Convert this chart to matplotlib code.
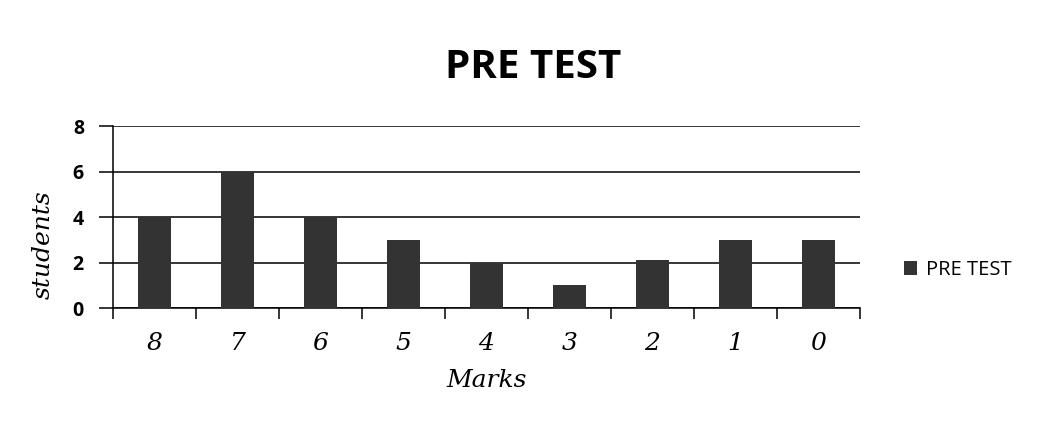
import numpy as np
import matplotlib
matplotlib.use("Agg")
import matplotlib.pyplot as plt

marks = ["8", "7", "6", "5", "4", "3", "2", "1", "0"]
students = [4, 6, 4, 3, 2, 1, 2.1, 3, 3]

fig = plt.figure(figsize=(10.39, 4.32), dpi=100)
ax = fig.add_axes([0.1088, 0.287, 0.7189, 0.421])

x = np.arange(len(marks))
ax.set_axisbelow(True)
ax.yaxis.grid(True, color="black", linewidth=1.1)
bars = ax.bar(x, students, width=0.4, color="#333333", label="PRE TEST", zorder=3)

ax.set_xlim(-0.5, len(marks) - 0.5)
ax.set_ylim(0, 8)
ax.set_yticks([0, 2, 4, 6, 8])
ax.tick_params(axis="y", length=10, width=1.1, pad=11)
for lab in ax.get_yticklabels():
    lab.set_fontfamily("Open Sans")
    lab.set_fontweight("bold")
    lab.set_fontsize(14)

# category labels centered, boundary ticks like a spreadsheet chart
ax.set_xticks(x)
ax.set_xticklabels(marks, fontfamily="DejaVu Serif", fontstyle="italic", fontsize=18)
ax.tick_params(axis="x", which="major", length=0, pad=17)
ax.set_xticks(np.arange(-0.5, len(marks)), minor=True)
ax.tick_params(axis="x", which="minor", length=8, width=1.1)

for s in ["top", "right"]:
    ax.spines[s].set_visible(False)
ax.spines["left"].set_linewidth(1.1)
ax.spines["bottom"].set_linewidth(1.1)

ax.set_xlabel("Marks", fontfamily="DejaVu Serif", fontstyle="italic", fontsize=18, labelpad=10)
ax.set_ylabel("students", fontfamily="DejaVu Serif", fontstyle="italic", fontsize=18)
ax.yaxis.set_label_coords(-0.078, 0.35)

fig.suptitle("PRE TEST", x=0.513, y=0.89, fontfamily="Open Sans", fontweight="bold", fontsize=29)

leg = fig.legend(handles=[bars], labels=["PRE TEST"], loc="center left",
                 bbox_to_anchor=(0.853, 0.375), frameon=False, handlelength=0.65,
                 handleheight=0.65, handletextpad=0.4,
                 prop={"family": "Open Sans", "size": 14.5})

fig.savefig("out.png", dpi=100, facecolor="white")
